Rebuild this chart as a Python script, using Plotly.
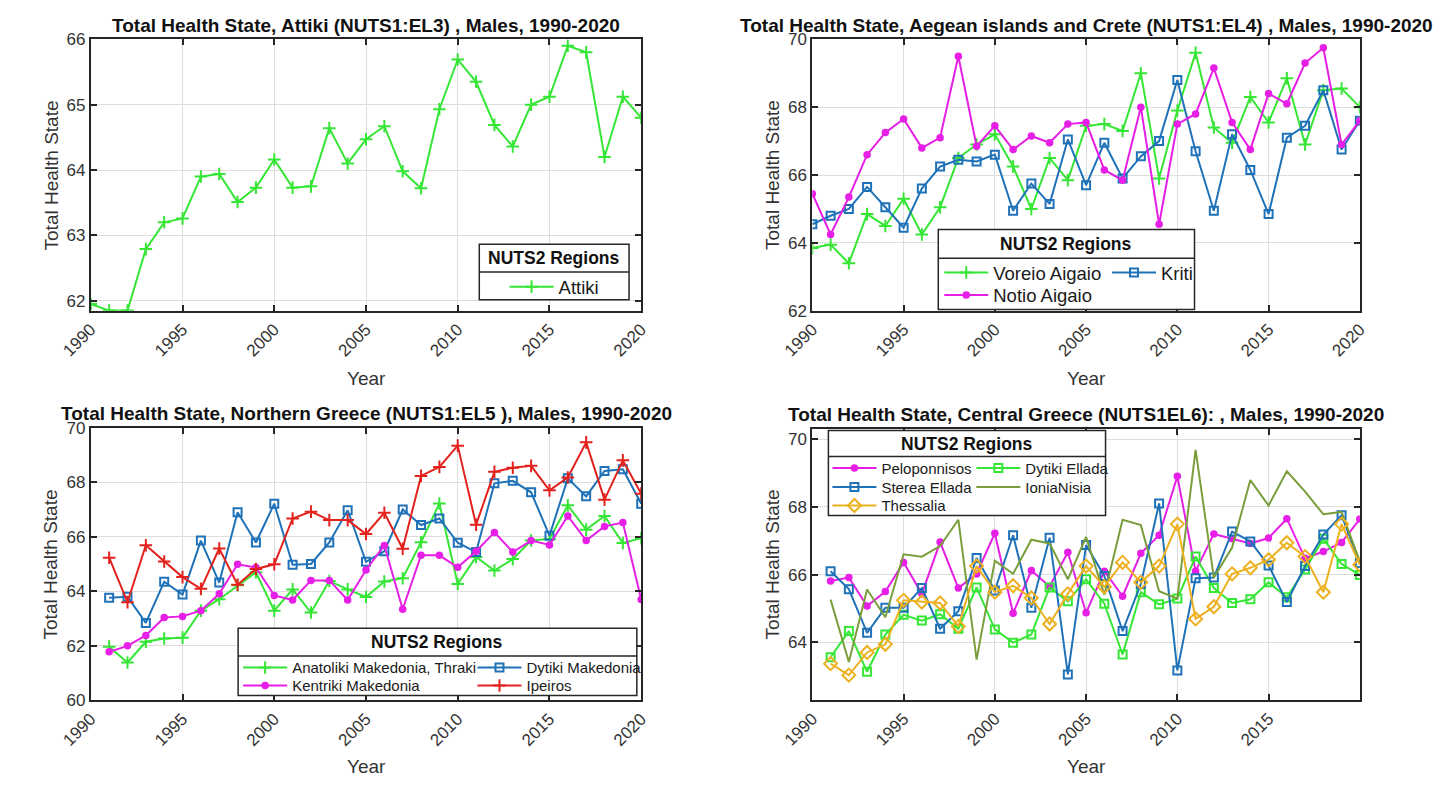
import plotly.graph_objects as go

W, H = 1451, 787
FONT = "Liberation Sans, Arial, sans-serif"
INK = "#262626"

# ---------------- data ----------------
years_all = list(range(1990, 2021))
years_from91 = list(range(1991, 2021))

attiki = [61.95, 61.85, 61.85, 62.79, 63.20, 63.26, 63.90, 63.94, 63.51, 63.73,
          64.16, 63.73, 63.75, 64.64, 64.10, 64.47, 64.67, 63.98, 63.72, 64.93,
          65.69, 65.35, 64.69, 64.36, 65.00, 65.12, 65.90, 65.80, 64.20, 65.12, 64.80]

voreio_aigaio = [63.85, 63.95, 63.40, 64.85, 64.50, 65.30, 64.25, 65.05, 66.50, 66.90,
                 67.20, 66.25, 65.00, 66.50, 65.85, 67.45, 67.50, 67.30, 69.00, 65.90,
                 67.90, 69.60, 67.40, 66.95, 68.30, 67.55, 68.85, 66.90, 68.50, 68.55, 68.00]
kriti = [64.55, 64.80, 65.00, 65.65, 65.05, 64.45, 65.60, 66.25, 66.45, 66.40,
         66.60, 64.95, 65.75, 65.15, 67.05, 65.70, 66.95, 65.90, 66.55, 67.00,
         68.80, 66.70, 64.95, 67.20, 66.15, 64.85, 67.10, 67.45, 68.50, 66.75, 67.60]
notio_aigaio = [65.45, 64.25, 65.35, 66.60, 67.25, 67.65, 66.80, 67.10, 69.50, 66.85,
                67.45, 66.75, 67.15, 66.95, 67.50, 67.55, 66.15, 65.85, 68.00, 64.55,
                67.50, 67.80, 69.15, 67.55, 66.75, 68.40, 68.10, 69.30, 69.75, 66.90, 67.60]

anatoliki_makedonia = [61.97, 61.39, 62.15, 62.27, 62.30, 63.29, 63.71, 64.22, 64.70, 63.29,
                       64.07, 63.22, 64.38, 64.07, 63.79, 64.36, 64.48, 65.80, 67.22, 64.27,
                       65.26, 64.76, 65.18, 65.86, 65.92, 67.15, 66.26, 66.76, 65.77, 65.95]
dytiki_makedonia = [63.76, 63.80, 62.84, 64.35, 63.88, 65.86, 64.32, 66.90, 65.79, 67.21,
                    64.97, 65.00, 65.79, 66.97, 65.08, 65.47, 67.00, 66.43, 66.67, 65.78,
                    65.44, 67.96, 68.05, 67.63, 66.04, 68.14, 67.48, 68.41, 68.47, 67.21]
kentriki_makedonia = [61.78, 62.00, 62.38, 63.04, 63.08, 63.29, 63.91, 64.99, 64.87, 63.85,
                      63.68, 64.40, 64.40, 63.68, 64.78, 65.68, 63.34, 65.32, 65.32, 64.88,
                      65.47, 66.16, 65.44, 65.86, 65.70, 66.76, 65.86, 66.38, 66.52, 63.70]
ipeiros = [65.23, 63.60, 65.69, 65.09, 64.52, 64.09, 65.57, 64.24, 64.82, 64.99,
           66.67, 66.92, 66.61, 66.61, 66.10, 66.88, 65.56, 68.23, 68.56, 69.34,
           66.44, 68.38, 68.53, 68.60, 67.70, 68.17, 69.46, 67.36, 68.80, 67.58]

peloponnisos = [65.81, 65.91, 65.07, 65.50, 66.36, 65.43, 66.96, 65.60, 66.02, 67.22,
                64.86, 66.12, 65.65, 66.66, 64.87, 66.10, 65.36, 66.63, 67.16, 68.90,
                66.10, 67.20, 67.06, 66.92, 67.08, 67.65, 66.48, 66.68, 66.95, 67.64]
sterea_ellada = [66.10, 65.57, 64.28, 65.02, 65.02, 65.60, 64.40, 64.92, 66.49, 65.53,
                 67.16, 65.02, 67.09, 63.05, 66.87, 65.96, 64.33, 65.72, 68.10, 63.17,
                 65.89, 65.91, 67.27, 66.98, 66.27, 65.19, 66.25, 67.18, 67.75, 66.34]
thessalia = [63.37, 63.03, 63.70, 63.94, 65.24, 65.19, 65.16, 64.47, 66.25, 65.48,
             65.67, 65.31, 64.54, 65.43, 66.25, 65.64, 66.36, 65.77, 66.25, 67.49,
             64.69, 65.05, 66.02, 66.20, 66.44, 66.94, 66.53, 65.48, 67.49, 66.29]
dytiki_ellada = [63.56, 64.33, 63.13, 64.23, 64.81, 64.64, 64.83, 64.40, 65.62, 64.38,
                 63.99, 64.23, 65.62, 65.21, 65.86, 65.14, 63.64, 65.48, 65.12, 65.29,
                 66.53, 65.60, 65.16, 65.27, 65.77, 65.33, 66.15, 67.06, 66.31, 65.99]
ionia_nisia = [65.26, 63.42, 65.56, 64.74, 66.60, 66.53, 66.84, 67.62, 63.49, 66.41,
               66.02, 67.03, 66.92, 65.86, 67.11, 65.40, 67.62, 67.46, 65.51, 65.29,
               69.68, 65.91, 66.80, 68.79, 68.04, 69.05, 68.45, 67.78, 67.85, 66.39]

titles = [
    "Total Health State, Attiki (NUTS1:EL3) , Males, 1990-2020",
    "Total Health State, Aegean islands and Crete (NUTS1:EL4) , Males, 1990-2020",
    "Total Health State, Northern Greece (NUTS1:EL5 ), Males, 1990-2020",
    "Total Health State, Central Greece (NUTS1EL6): , Males, 1990-2020",
]
legend_title = "NUTS2 Regions"
x_label = "Year"
y_label = "Total Health State"

x_ticks_full = [1990, 1995, 2000, 2005, 2010, 2015, 2020]
x_ticks_short = [1990, 1995, 2000, 2005, 2010, 2015]
y_ticks = [[62, 63, 64, 65, 66], [62, 64, 66, 68, 70],
           [60, 62, 64, 66, 68, 70], [64, 66, 68, 70]]
y_ranges = [[61.846, 66.0], [62, 70], [60, 70], [62.29, 70.31]]

# ---------------- styles ----------------
GREEN = "#35e635"
MAGENTA = "#e61ee6"
BLUE = "#1f72b8"
RED = "#e3221e"
OLIVE = "#7a9e3c"
ORANGE = "#EDB120"

# panel pixel boxes (x0, x1, y0, y1)
boxes = [(61.5, 627.5, 31, 309.3), (803.5, 1366.5, 31, 309.3),
         (61.5, 627.5, 429, 708.5), (803.5, 1366.5, 430, 708.3)]

def fx(p):
    return p / W

def fy(p):
    return 1 - p / H

fig = go.Figure()

def style(kind, color):
    if kind == "plus":
        return dict(mode="lines+markers", line=dict(color=color, width=2),
                    marker=dict(symbol="cross-thin", size=9, line=dict(color=color, width=2)))
    if kind == "square":
        return dict(mode="lines+markers", line=dict(color=color, width=2),
                    marker=dict(symbol="square-open", size=8, color=color, line=dict(color=color, width=2)))
    if kind == "dot":
        return dict(mode="lines+markers", line=dict(color=color, width=2),
                    marker=dict(symbol="circle", size=7.5, color=color))
    if kind == "diamond":
        return dict(mode="lines+markers", line=dict(color=color, width=2),
                    marker=dict(symbol="diamond-open", size=10, color=color, line=dict(color=color, width=2)))
    return dict(mode="lines", line=dict(color=color, width=2))

# (panel, name, x, y, kind, color, legend pos px (sample start x, row y), font size)
series = [
    (1, "Attiki", years_all, attiki, "plus", GREEN, (492, 285), 18.5),
    (2, "Voreio Aigaio", years_all, voreio_aigaio, "plus", GREEN, (939, 270.5), 18.5),
    (2, "Kriti", years_all, kriti, "square", BLUE, (1111.5, 270.5), 18.5),
    (2, "Notio Aigaio", years_all, notio_aigaio, "dot", MAGENTA, (939, 293.5), 18.5),
    (3, "Anatoliki Makedonia, Thraki", years_from91, anatoliki_makedonia, "plus", GREEN, (218, 675), 15),
    (3, "Dytiki Makedonia", years_from91, dytiki_makedonia, "square", BLUE, (459, 675), 15),
    (3, "Kentriki Makedonia", years_from91, kentriki_makedonia, "dot", MAGENTA, (218, 693.5), 15),
    (3, "Ipeiros", years_from91, ipeiros, "plus", RED, (459, 693.5), 15),
    (4, "Peloponnisos", years_from91, peloponnisos, "dot", MAGENTA, (824, 470.6), 15),
    (4, "Dytiki Ellada", years_from91, dytiki_ellada, "square", GREEN, (972, 470.6), 15),
    (4, "Sterea Ellada", years_from91, sterea_ellada, "square", BLUE, (824, 490), 15),
    (4, "IoniaNisia", years_from91, ionia_nisia, "line", OLIVE, (972, 490), 15),
    (4, "Thessalia", years_from91, thessalia, "diamond", ORANGE, (824, 509), 15),
]

ITEMW = 44
legends = {}
for i, (panel, name, xs, ys, kind, color, (lx, ly), fs) in enumerate(series):
    lid = "legend" if i == 0 else f"legend{i + 1}"
    sfx = "" if panel == 1 else str(panel)
    fig.add_trace(go.Scatter(x=xs, y=ys, name=name, xaxis="x" + sfx, yaxis="y" + sfx,
                             legend=lid, showlegend=True, **style(kind, color)))
    legends[lid] = dict(x=fx(lx - 5), y=fy(ly), xref="paper", yref="paper",
                        xanchor="left", yanchor="middle", bgcolor="rgba(0,0,0,0)",
                        borderwidth=0, itemwidth=ITEMW,
                        font=dict(family=FONT, size=fs, color="#1a1a1a"))

layout = dict(width=W, height=H, margin=dict(l=0, r=0, t=0, b=0),
              paper_bgcolor="white", plot_bgcolor="white", **legends)

for k, (x0, x1, y0, y1) in enumerate(boxes):
    sfx = "" if k == 0 else str(k + 1)
    xt = x_ticks_short if k == 3 else x_ticks_full
    layout["xaxis" + sfx] = dict(
        domain=[fx(x0), fx(x1)], anchor="y" + sfx, range=[1990, 2020],
        tickvals=xt, ticktext=[str(v) for v in xt], tickangle=-45,
        showline=True, linecolor=INK, linewidth=2, mirror="ticks",
        ticks="inside", ticklen=6, tickwidth=1.5, tickcolor=INK,
        showgrid=True, gridcolor="#dddddd", gridwidth=1, zeroline=False,
        tickfont=dict(family=FONT, size=17, color="#333333"))
    layout["yaxis" + sfx] = dict(
        domain=[fy(y1), fy(y0)], anchor="x" + sfx, range=y_ranges[k],
        tickvals=y_ticks[k], showline=True, linecolor=INK, linewidth=2, mirror="ticks",
        ticks="inside", ticklen=6, tickwidth=1.5, tickcolor=INK,
        showgrid=True, gridcolor="#dddddd", gridwidth=1, zeroline=False,
        tickfont=dict(family=FONT, size=17, color="#333333"))

fig.update_layout(**layout)

annotations = []
shapes = []
title_y = [17, 17, 415, 416]
ylab_x = [21, 762, 20, 762]
xlab_y = [379, 379, 776, 776]
for k, (x0, x1, y0, y1) in enumerate(boxes):
    cx = (x0 + x1) / 2
    annotations.append(dict(text=titles[k], x=fx(cx), y=fy(title_y[k]), xref="paper", yref="paper",
                            xanchor="center", yanchor="middle", showarrow=False,
                            font=dict(family=FONT, size=19, color="#111111", weight="bold")))
    annotations.append(dict(text=x_label, x=fx(cx), y=fy(xlab_y[k]), xref="paper", yref="paper",
                            xanchor="center", yanchor="middle", showarrow=False,
                            font=dict(family=FONT, size=19, color="#333333")))
    annotations.append(dict(text=y_label, x=fx(ylab_x[k]), y=fy((y0 + y1) / 2), xref="paper",
                            yref="paper", xanchor="center", yanchor="middle", textangle=-90,
                            showarrow=False, font=dict(family=FONT, size=19, color="#333333")))

# legend frames: (x0, x1, y0, y1, separator y)
frames = [(461, 615, 241, 298, 269.5), (933, 1196.5, 226, 308, 255.3),
          (213, 623, 634.5, 703.5, 663), (820, 1105, 432, 519, 458.5)]
for (a, b, c, d, s) in frames:
    shapes.append(dict(type="rect", xref="paper", yref="paper", x0=fx(a), x1=fx(b),
                       y0=fy(d), y1=fy(c), fillcolor="white", line=dict(color=INK, width=1.5),
                       layer="above"))
    shapes.append(dict(type="line", xref="paper", yref="paper", x0=fx(a), x1=fx(b),
                       y0=fy(s), y1=fy(s), line=dict(color=INK, width=1.5), layer="above"))
    annotations.append(dict(text=legend_title, x=fx((a + b) / 2), y=fy((c + s) / 2), xref="paper",
                            yref="paper", xanchor="center", yanchor="middle", showarrow=False,
                            font=dict(family=FONT, size=17.5, color="#111111", weight="bold")))

fig.update_layout(annotations=annotations, shapes=shapes)
fig.write_html("out.html")
